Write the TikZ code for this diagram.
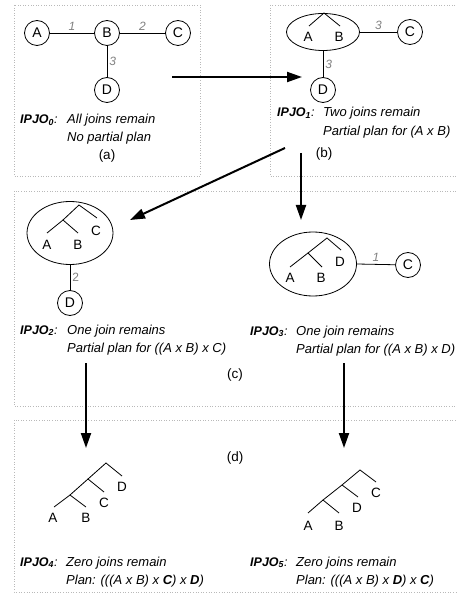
\documentclass[tikz,border=0pt]{standalone}
\usepackage{fontspec}
\setmainfont{Liberation Sans}
\usetikzlibrary{arrows.meta,shapes.geometric,positioning}

\begin{document}
\begin{tikzpicture}[x=1pt, y=-1pt,
    panel/.style={draw=gray!55, dotted, line width=0.6pt},
    rel/.style={draw, circle, line width=0.8pt, minimum size=25pt, inner sep=0pt, font=\fontsize{14}{16}\selectfont},
    grp/.style={draw, ellipse, line width=0.8pt, inner sep=0pt},
    link/.style={line width=0.8pt},
    leaf/.style={inner sep=0pt, font=\fontsize{13.5}{15}\selectfont},
    wt/.style={text=gray, inner sep=2pt, font=\fontsize{12}{14}\selectfont\itshape},
    flow/.style={-{Triangle[length=15pt,width=10pt]}, line width=2pt},
    ipjo/.style={anchor=base west, inner sep=0pt, font=\fontsize{12.5}{15}\selectfont\bfseries\itshape},
    note/.style={anchor=base west, inner sep=0pt, font=\fontsize{13}{15}\selectfont\itshape},
    tag/.style={inner sep=0pt, font=\fontsize{13.5}{15}\selectfont}
]
\useasboundingbox (0,0) rectangle (456,593);

% panels
\draw[panel] (14,5) rectangle (200,176);
\draw[panel] (270,5) rectangle (458,176);
\draw[panel] (14,191) rectangle (458,406);
\draw[panel] (14,420) rectangle (458,592);

% (a) join graph
\node[rel] (a0) at (37,33) {A};
\node[rel] (b0) at (107,33) {B};
\node[rel] (c0) at (178,33) {C};
\node[rel] (d0) at (107,90) {D};
\draw[link] (a0) -- node[wt, above] {1} (b0);
\draw[link] (b0) -- node[wt, above] {2} (c0);
\draw[link] (b0) -- node[wt, right] {3} (d0);
\node[ipjo] (ip0) at (20,124) {IPJO\textsubscript{0}\normalfont\itshape:};
\node[note] (n0a) at (67,124) {All joins remain};
\node[note] (n0b) at (67,142) {No partial plan};
\node[tag] (la) at (107,156) {(a)};

% (b) A x B
\node[grp, minimum width=73pt, minimum height=37pt] (g1) at (323,32) {};
\draw[link] (309,26) -- (324,13) -- (340,26);
\node[leaf] (a1) at (308,37) {A};
\node[leaf] (b1) at (339,37) {B};
\node[rel] (c1) at (410,32) {C};
\node[rel] (d1) at (323,90) {D};
\draw[link] (g1.east) -- node[wt, above] {3} (c1);
\draw[link] (g1.south) -- node[wt, right] {3} (d1);
\node[ipjo] (ip1) at (277,117) {IPJO\textsubscript{1}\normalfont\itshape:};
\node[note] (n1a) at (323,117) {Two joins remain};
\node[note] (n1b) at (323,136) {Partial plan for (A x B)};
\node[tag] (lb) at (324,154) {(b)};

% (c) left: (A x B) x C
\node[grp, minimum width=86pt, minimum height=63pt] (g2) at (70,233) {};
\draw[link] (47,233) -- (63,220) -- (78,233);
\draw[link] (63,220) -- (79,205) -- (97,218);
\node[leaf] (a2) at (47,245) {A};
\node[leaf] (b2) at (78,245) {B};
\node[leaf] (c2) at (96,231) {C};
\node[rel] (d2) at (70,303) {D};
\draw[link] (g2.south) -- node[wt, right, font=\fontsize{12}{14}\selectfont] {2} (d2);
\node[ipjo] (ip2) at (20,334) {IPJO\textsubscript{2}\normalfont\itshape:};
\node[note] (n2a) at (67,334) {One join remains};
\node[note] (n2b) at (67,352) {Partial plan for ((A x B) x C)};

% (c) right: (A x B) x D
\node[grp, minimum width=87pt, minimum height=64pt] (g3) at (313,264) {};
\draw[link] (290,267) -- (308,253) -- (322,267);
\draw[link] (308,253) -- (327,238) -- (341,250);
\node[leaf] (a3) at (290,278) {A};
\node[leaf] (b3) at (321,278) {B};
\node[leaf] (d3) at (340,262) {D};
\node[rel] (c3) at (408,265) {C};
\draw[link] (g3.east) -- node[wt, above] {1} (c3);
\node[ipjo] (ip3) at (250,335) {IPJO\textsubscript{3}\normalfont\itshape:};
\node[note] (n3a) at (296,335) {One join remains};
\node[note] (n3b) at (296,353) {Partial plan for ((A x B) x D)};
\node[tag] (lc) at (235,375) {(c)};

% (d) final plans
\node[tag] (ld) at (235,458) {(d)};
\draw[link] (54,507) -- (70,495) -- (86,507);
\draw[link] (70,495) -- (88,479) -- (104,492);
\draw[link] (88,479) -- (106,463) -- (122,476);
\node[leaf] (a4) at (53,518) {A};
\node[leaf] (b4) at (86,518) {B};
\node[leaf] (c4) at (104,503) {C};
\node[leaf] (d4) at (122,487) {D};
\node[ipjo] (ip4) at (20,566) {IPJO\textsubscript{4}\normalfont\itshape:};
\node[note] (n4a) at (66,566) {Zero joins remain};
\node[note] (n4b) at (66,584) {Plan: (((A x B) x \textbf{C}) x \textbf{D})};

\draw[link] (308,513) -- (323,500) -- (339,513);
\draw[link] (323,500) -- (342,485) -- (358,497);
\draw[link] (342,485) -- (360,470) -- (376,482);
\node[leaf] (a5) at (308,526) {A};
\node[leaf] (b5) at (339,526) {B};
\node[leaf] (d5) at (357,508) {D};
\node[leaf] (c5) at (376,493) {C};
\node[ipjo] (ip5) at (250,566) {IPJO\textsubscript{5}\normalfont\itshape:};
\node[note] (n5a) at (296,566) {Zero joins remain};
\node[note] (n5b) at (296,584) {Plan: (((A x B) x \textbf{D}) x \textbf{C})};

% steps between panels
\coordinate (s0) at (172,77);
\coordinate (t1) at (302,77);
\coordinate (s1) at (285,148);
\coordinate (t2) at (130,220);
\coordinate (s1b) at (301,153);
\coordinate (t3) at (301,220);
\coordinate (s2) at (86,363);
\coordinate (t4) at (86,448);
\coordinate (s3) at (344,363);
\coordinate (t5) at (344,448);
\draw[flow] (s0) -- (t1);
\draw[flow] (s1) -- (t2);
\draw[flow] (s1b) -- (t3);
\draw[flow] (s2) -- (t4);
\draw[flow] (s3) -- (t5);
\end{tikzpicture}
\end{document}
